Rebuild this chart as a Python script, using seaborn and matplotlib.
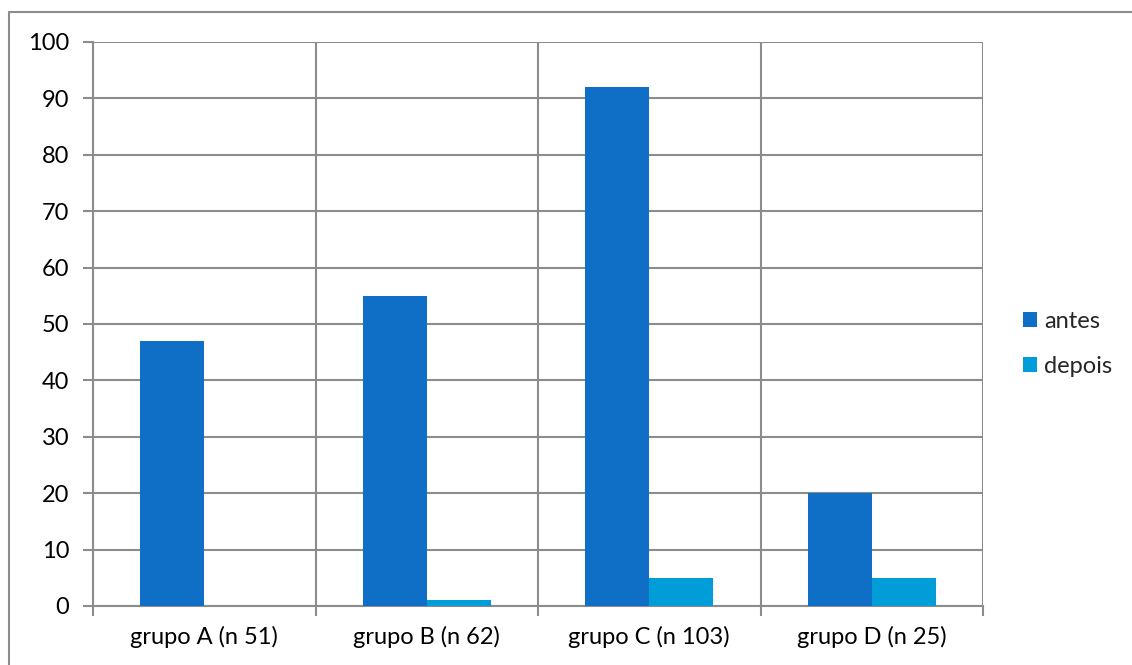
import matplotlib
matplotlib.use("Agg")
import matplotlib.pyplot as plt
import seaborn as sns
import pandas as pd
from matplotlib.patches import Patch

categories = ["grupo A (n 51)", "grupo B (n 62)", "grupo C (n 103)", "grupo D (n 25)"]
antes = [47, 55, 92, 20]
depois = [0, 1, 5, 5]
series_names = ["antes", "depois"]
colors = ["#0F6FC6", "#009DD9"]
y_ticks = list(range(0, 101, 10))

df = pd.DataFrame({
    "grupo": categories * 2,
    "valor": antes + depois,
    "serie": [series_names[0]] * len(categories) + [series_names[1]] * len(categories),
})

sns.set_theme(style="white")
plt.rcParams["font.family"] = ["Lato", "DejaVu Sans"]

grid_c = "#8C8C8C"
fs = 17
fig = plt.figure(figsize=(11.32, 6.65), dpi=100)
ax = fig.add_axes([93 / 1132, 1 - 606 / 665, (983 - 93) / 1132, (606 - 42) / 665])

sns.barplot(data=df, x="grupo", y="valor", hue="serie", palette=colors,
            width=0.575, saturation=1, ax=ax, legend=False, zorder=3,
            linewidth=0)

ax.set_ylim(0, 100)
ax.set_xlim(-0.5, len(categories) - 0.5)
ax.set_yticks(y_ticks)
ax.set_xlabel("")
ax.set_ylabel("")

# horizontal gridlines at every y tick
ax.yaxis.grid(True, color=grid_c, linewidth=1.5, zorder=0)
# vertical separators between categories
ax.set_xticks([i - 0.5 for i in range(len(categories) + 1)], minor=True)
ax.xaxis.grid(True, which="minor", color=grid_c, linewidth=1.5, zorder=0)
ax.set_axisbelow(True)

ax.tick_params(axis="x", which="major", length=0, pad=14, labelsize=fs, colors="black")
ax.tick_params(axis="x", which="minor", length=7, width=1.5, color=grid_c, bottom=True)
ax.tick_params(axis="y", length=7, width=1.5, color=grid_c, left=True, pad=10,
               labelsize=fs, labelcolor="black")

for side in ["top", "right"]:
    ax.spines[side].set_visible(False)
for side in ["left", "bottom"]:
    ax.spines[side].set_color(grid_c)
    ax.spines[side].set_linewidth(1.5)

handles = [Patch(facecolor=c, edgecolor="none", label=n) for c, n in zip(colors, series_names)]
fig.legend(handles=handles, loc="center left", bbox_to_anchor=(1023 / 1132, 1 - 344 / 665),
           frameon=False, fontsize=fs, handlelength=0.6, handleheight=0.6,
           handletextpad=0.3, labelspacing=1.0, borderaxespad=0, borderpad=0)

# chart-area border (top and left edges)
fig.add_artist(plt.Line2D([9 / 1132, 9 / 1132], [0, 1 - 12 / 665], transform=fig.transFigure,
                          color=grid_c, linewidth=1.5))
fig.add_artist(plt.Line2D([9 / 1132, 1], [1 - 12 / 665, 1 - 12 / 665], transform=fig.transFigure,
                          color=grid_c, linewidth=1.5))

fig.savefig("out.png", dpi=100, facecolor="white")
